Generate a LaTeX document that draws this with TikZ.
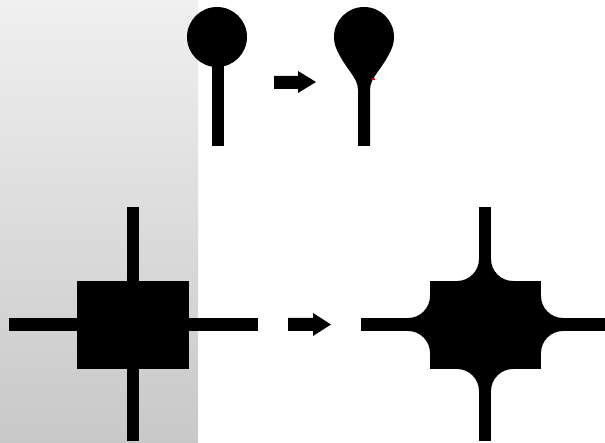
\documentclass[tikz,border=0pt]{standalone}
\usepackage{tikz}

\definecolor{paneltop}{RGB}{240,240,240}
\definecolor{panelbottom}{RGB}{200,200,200}

% concave quarter-circle fillet at corner (#1,#2); #3,#4 = signs towards the arc centre; r = 22
\newcommand{\filletat}[4]{%
  \fill[ink] (#1,#2) -- (#1,#2+#4*22)
    .. controls (#1,#2+#4*22-#4*12.15) and (#1+#3*22-#3*12.15,#2) ..
    (#1+#3*22,#2) -- cycle;}

\tikzset{
  ink/.style={fill=black, draw=none},
  panel/.style={top color=paneltop, bottom color=panelbottom, draw=none},
}

\begin{document}
\begin{tikzpicture}[x=1pt,y=-1pt]
  \useasboundingbox (0,0) rectangle (605,443);
  \fill[white] (0,0) rectangle (605,443);

  % shaded panel on the left
  \shade[panel] (0,0) rectangle (198,443);

  % ---- lollipop, before ----
  \fill[ink] (217,37) circle[radius=30];
  \fill[ink] (212,55) rectangle (224,146);

  % ---- arrow, top ----
  \fill[ink] (274,76) -- (298,76) -- (298,71) -- (316,82) -- (298,93)
        -- (298,89) -- (274,89) -- cycle;

  % ---- lollipop, after: tapered neck into the stem ----
  \fill[ink] (364,37) circle[radius=30];
  \fill[ink] (358,146) -- (358,90)
        .. controls (358,77) and (346,70) .. (337,50)
        -- (391,50)
        .. controls (382,70) and (370,77) .. (370,90)
        -- (370,146) -- cycle;
  \fill[red] (372,78) rectangle (375,80);

  % ---- cross with block, before ----
  \fill[ink] (127,207) rectangle (139,441);
  \fill[ink] (9,318) rectangle (258,331);
  \fill[ink] (77,281) rectangle (189,369);

  % ---- arrow, bottom ----
  \fill[ink] (288,318) -- (313,318) -- (313,313) -- (331,324.5) -- (313,336)
        -- (313,331) -- (288,331) -- cycle;

  % ---- cross with block, after: filleted joints ----
  \fill[ink] (479,207) rectangle (491,441);
  \fill[ink] (361,318) rectangle (605,331);
  \fill[ink] (430,281) rectangle (541,369);
  \filletat{479}{281}{-1}{-1}
  \filletat{491}{281}{1}{-1}
  \filletat{479}{369}{-1}{1}
  \filletat{491}{369}{1}{1}
  \filletat{430}{318}{-1}{-1}
  \filletat{430}{331}{-1}{1}
  \filletat{541}{318}{1}{-1}
  \filletat{541}{331}{1}{1}
\end{tikzpicture}
\end{document}
